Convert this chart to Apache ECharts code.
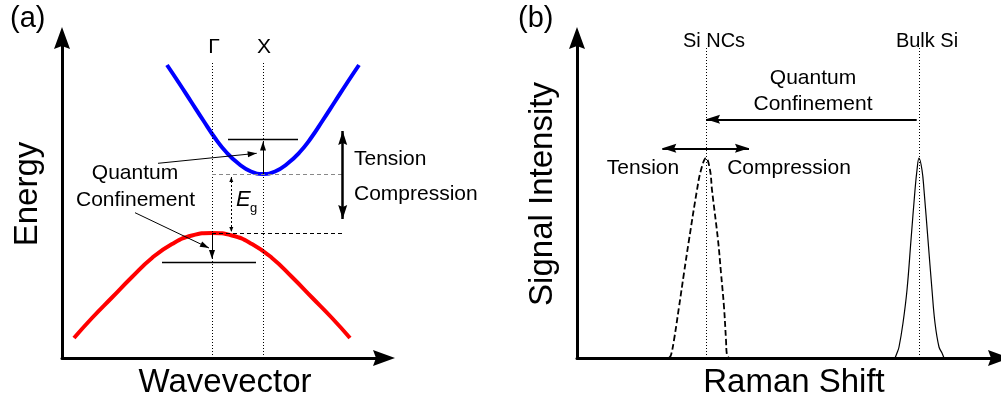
<!DOCTYPE html>
<html>
<head>
<meta charset="utf-8">
<script src="https://cdn.jsdelivr.net/npm/echarts@6/dist/echarts.min.js"></script>
<style>
html,body{margin:0;padding:0;background:#fff;}
#chart{width:1001px;height:405px;}
</style>
</head>
<body>
<div id="chart"></div>
<script>
// ---- Panel (a): band diagram, values in arbitrary units ----
const conductionBand = [[105,293],[117,275],[129,256.5],[141,238],[153,220],[165,205],[177,194],[189,186.5],[201,184],[213,186.5],[225,194],[237,205],[249,220],[261,238],[273,256.5],[285,275],[297,293]];
const valenceBand = [[12,20],[30,40],[50,60.5],[70,81],[90,100],[110,114],[130,122.5],[150,125],[170,122.5],[190,114],[210,100],[230,81],[250,60.5],[270,40],[288,20]];
const bandPointLabels = ['Γ','X'];
const bandPointK = [150, 201];
const gapLevels = {cbMin: 184, vbMax: 125};
const confinedLevels = {cb: 219, vb: 96};

// ---- Panel (b): Raman spectra ----
const siNcSpectrum = [[92,0],[94,3],[97,18],[102,51],[107,85],[112,118],[120,168],[124,188],[129,200],[133,188],[135,168],[141,118],[144,85],[147,51],[149,18],[150,3],[152,0]];
const bulkSiSpectrum = [[318,0],[320,5],[322,11],[326,35],[330,68],[334,118],[338,168],[340,188],[342,200],[345,188],[347,168],[351,118],[355,68],[358,35],[362,11],[365,5],[367,0]];
const ramanPeakLabels = ['Si NCs','Bulk Si'];
const ramanPeakX = [129, 342];

const FONT = "'Liberation Sans', Arial, Helvetica, sans-serif";
const AXIS_ARROW = 'path://M0,0 L8,22 L0,19 L-8,22 Z';
const HEAD = 'path://M0,0 L5,14 L0,12 L-5,14 Z';
const THIN_HEAD = 'path://M0,0 L4,10 L-4,10 Z';

function seg(p1, p2, style, startHead, endHead) {
  const a = {coord: p1, symbol: 'none', lineStyle: style};
  const b = {coord: p2, symbol: 'none'};
  if (startHead) { a.symbol = startHead.s; a.symbolSize = startHead.size; a.symbolOffset = [0, '50%']; }
  if (endHead) { b.symbol = endHead.s; b.symbolSize = endHead.size; b.symbolOffset = [0, '50%']; }
  return [a, b];
}
const dotted = {color:'#000', width:1, type:[1,2]};
const thin = {color:'#000', width:1, type:'solid'};
const level = {color:'#000', width:1.3, type:'solid'};
const bold = {color:'#000', width:2.5, type:'solid'};
const big = {s: HEAD, size:[9,14]};
const small = {s: THIN_HEAD, size:[6,9]};
const tiny = {s: THIN_HEAD, size:[4,5]};

function axisCommon(max) {
  return {
    type:'value', min:0, max:max,
    axisLine:{show:true, onZero:false, symbol:['none', AXIS_ARROW], symbolSize:[16,22], lineStyle:{color:'#000', width:3}},
    axisTick:{show:false}, axisLabel:{show:false}, splitLine:{show:false}
  };
}

const markA = [
  seg([bandPointK[0],0],[bandPointK[0],296], dotted),
  seg([bandPointK[1],0],[bandPointK[1],296], dotted),
  seg([bandPointK[0],gapLevels.cbMin],[281,gapLevels.cbMin], {color:'#888', width:1.2, type:[4,3]}),
  seg([bandPointK[0],gapLevels.vbMax],[281,gapLevels.vbMax], {color:'#000', width:1, type:[4,3]}),
  seg([166,confinedLevels.cb],[236,confinedLevels.cb], level),
  seg([100,confinedLevels.vb],[194,confinedLevels.vb], level),
  seg([bandPointK[1],gapLevels.cbMin],[bandPointK[1],216.5], thin, null, small),
  seg([bandPointK[0],gapLevels.vbMax],[bandPointK[0],99], thin, null, small),
  seg([96,194.7],[194.7,204.7], thin, null, small),
  seg([73,145.3],[147,110], thin, null, small),
  seg([169.3,181],[169.3,126], {color:'#000', width:1, type:[2,2]}, tiny, tiny),
  seg([280.7,139],[280.7,227], bold, big, big)
];
const markB = [
  seg([ramanPeakX[0],0],[ramanPeakX[0],310], dotted),
  seg([ramanPeakX[1],0],[ramanPeakX[1],310], dotted),
  seg([339.7,238.7],[ramanPeakX[0],238.7], {color:'#000', width:2, type:'solid'}, null, big),
  seg([85.3,209.7],[172,209.7], {color:'#000', width:2, type:'solid'}, big, big)
];

function markLine(data) {
  return {silent:true, animation:false, symbol:['none','none'], label:{show:false}, emphasis:{disabled:true}, data:data};
}

function txt(text, x, y, size, opts) {
  opts = opts || {};
  return {
    type:'text', x:x, y:y, rotation: opts.rot || 0, silent:true,
    style:{text:text, fill:'#000', font:(opts.italic ? 'italic ' : '') + size + 'px ' + FONT,
      align: opts.align || 'center', verticalAlign:'middle'}
  };
}

const chart = echarts.init(document.getElementById('chart'), null, {renderer:'canvas'});
chart.setOption({
  animation:false,
  backgroundColor:'#fff',
  grid:[
    {left:62, top:38, width:322, height:320},
    {left:577, top:38, width:422, height:320}
  ],
  xAxis:[Object.assign({gridIndex:0}, axisCommon(322)), Object.assign({gridIndex:1}, axisCommon(422))],
  yAxis:[Object.assign({gridIndex:0}, axisCommon(320)), Object.assign({gridIndex:1}, axisCommon(320))],
  series:[
    {type:'line', xAxisIndex:0, yAxisIndex:0, data:conductionBand, smooth:0.5, symbol:'none', silent:true,
     lineStyle:{color:'#0000ff', width:4}, z:3, markLine:markLine(markA)},
    {type:'line', xAxisIndex:0, yAxisIndex:0, data:valenceBand, smooth:0.5, symbol:'none', silent:true,
     lineStyle:{color:'#ff0000', width:4}, z:3},
    {type:'line', xAxisIndex:1, yAxisIndex:1, data:siNcSpectrum, smooth:0.4, symbol:'none', silent:true,
     lineStyle:{color:'#000', width:1.8, type:[6,3]}, z:3, markLine:markLine(markB)},
    {type:'line', xAxisIndex:1, yAxisIndex:1, data:bulkSiSpectrum, smooth:0.4, symbol:'none', silent:true,
     lineStyle:{color:'#000', width:1.2}, z:3}
  ],
  graphic:[
    txt('(a)', 10, 19, 29, {align:'left'}),
    txt('(b)', 518, 19, 29, {align:'left'}),
    txt(bandPointLabels[0], 214, 47, 21),
    txt(bandPointLabels[1], 264, 47, 21),
    txt('Quantum', 135, 173, 21),
    txt('Confinement', 135.5, 200, 21),
    txt('Tension', 354, 159, 21, {align:'left'}),
    txt('Compression', 354, 194, 21, {align:'left'}),
    txt('E', 236, 200, 22, {align:'left', italic:true}),
    txt('g', 250, 208, 13, {align:'left'}),
    txt('Energy', 28, 194, 33, {rot:Math.PI/2}),
    txt('Wavevector', 225, 383, 33),
    txt('Signal Intensity', 543, 194, 33, {rot:Math.PI/2}),
    txt('Raman Shift', 794, 383, 33),
    txt(ramanPeakLabels[0], 714, 41, 20),
    txt(ramanPeakLabels[1], 927, 41, 20),
    txt('Quantum', 813, 78, 21),
    txt('Confinement', 813, 104, 21),
    txt('Tension', 643, 168, 21),
    txt('Compression', 789, 168, 21)
  ]
});
</script>
</body>
</html>
